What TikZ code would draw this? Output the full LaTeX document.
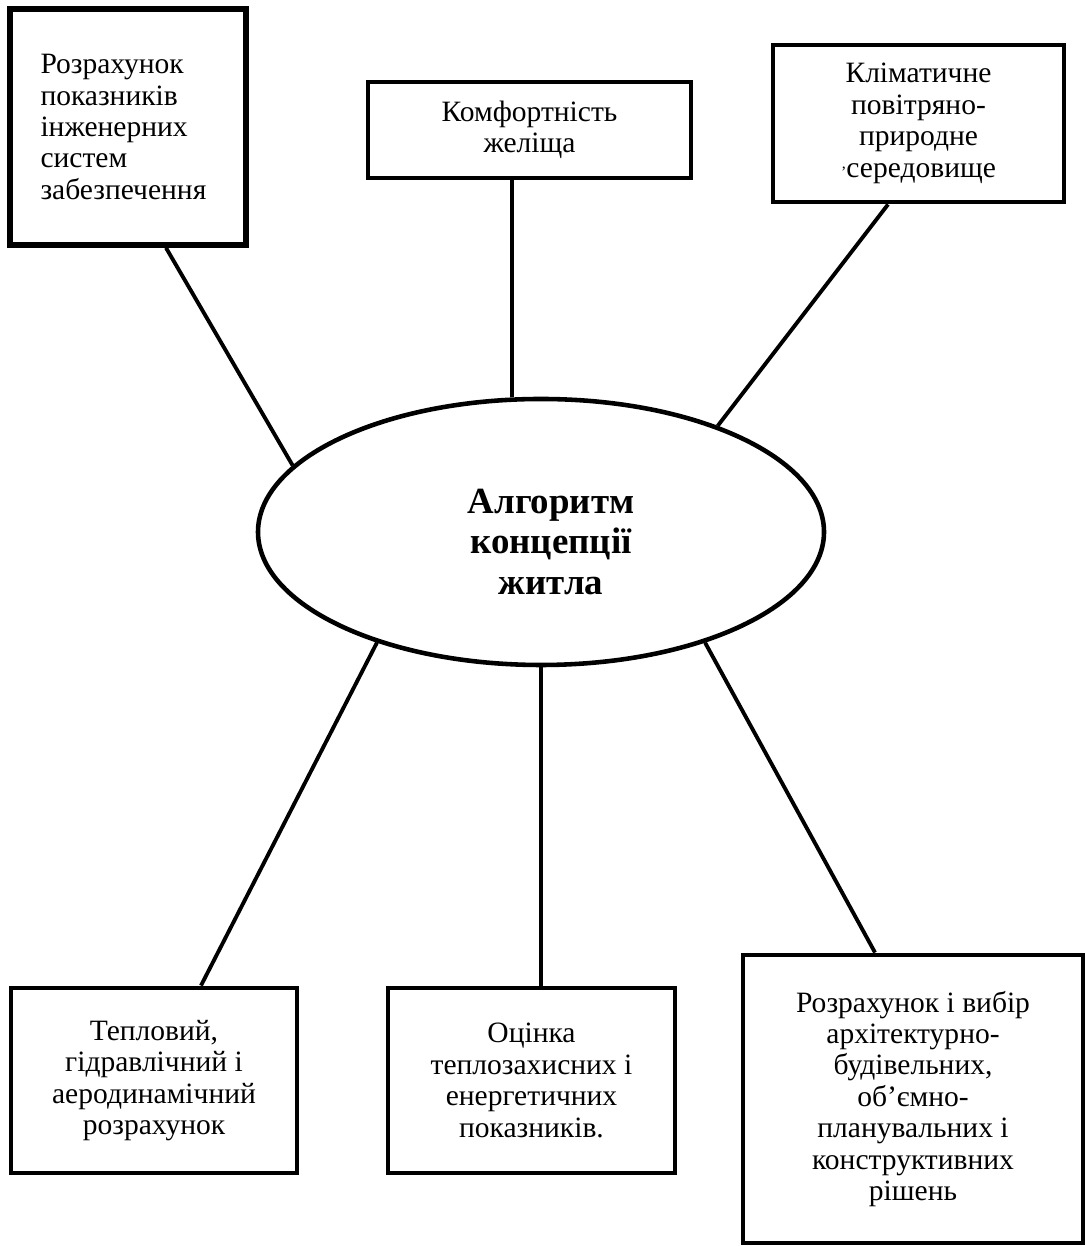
\documentclass[tikz,border=0pt]{standalone}
\usepackage{fontspec}
\setmainfont{Liberation Serif}
\usetikzlibrary{shapes.geometric,calc}
\tikzset{
  box/.style={draw=black, line width=2.8pt, align=center, inner sep=2mm, font=\fontsize{16.8pt}{17.9pt}\selectfont},
  leftbox/.style={box, align=left, text width=3.5cm},
  oval/.style={ellipse, draw=black, line width=2.6pt, inner sep=0pt},
  ovaltext/.style={align=center, inner sep=0pt, font=\bfseries\fontsize{21pt}{22.8pt}\selectfont},
  link/.style={line width=2.2pt, draw=black}
}

\begin{document}
\begin{tikzpicture}
  \useasboundingbox (0,0) rectangle (21.7,24.92);
  \node[leftbox, minimum width=4.72cm, minimum height=4.72cm, line width=3.2pt] (eng) at (2.56,22.38) {Розрахунок\\показників\\інженерних\\систем\\забезпечення};
  \node[box, minimum width=6.46cm, minimum height=1.92cm] (comfort) at (10.59,22.32) {Комфортність\\желіща};
  \node[box, minimum width=5.82cm, minimum height=3.14cm] (climate) at (18.37,22.45) {Кліматичне\\повітряно-\\природне\\{\small'}середовище};
  \node[oval, minimum width=11.32cm, minimum height=5.32cm] (algo) at (10.82,14.28) {};
  \node[ovaltext] (algotext) at (11.02,14.08) {Алгоритм\\концепції\\житла};
  \node[box, minimum width=5.72cm, minimum height=3.7cm] (heat) at (3.08,3.31) {Тепловий,\\гідравлічний і\\аеродинамічний\\розрахунок};
  \node[box, minimum width=5.74cm, minimum height=3.7cm] (energy) at (10.63,3.31) {Оцінка\\теплозахисних і\\енергетичних\\показників.};
  \node[box, minimum width=6.8cm, minimum height=5.76cm] (design) at (18.26,2.94) {Розрахунок і вибір\\архітектурно-\\будівельних,\\об'ємно-\\планувальних і\\конструктивних\\рішень};
  \draw[link] ($(eng.south)+(0.76,0)$) -- (algo.165);
  \draw[link] (algo.102) -- (algo.102 |- comfort.south);
  \draw[link] ($(climate.south)+(-0.61,0)$) -- (algo.31);
  \draw[link] (algo.214) -- ($(heat.north)+(0.94,0)$);
  \draw[link] (algo.south) -- (algo.south |- energy.north);
  \draw[link] (algo.326) -- ($(design.north)+(-0.76,0)$);
\end{tikzpicture}
\end{document}
